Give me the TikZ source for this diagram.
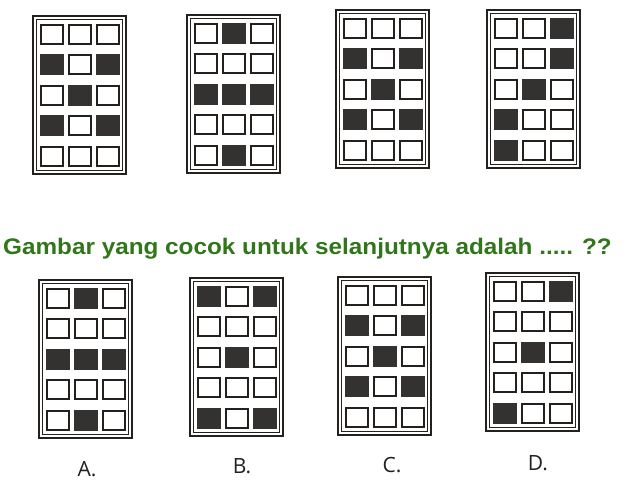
\documentclass[tikz,border=0pt]{standalone}
\usepackage{fontspec}
\setmainfont{Liberation Sans}
\newfontfamily\labfont{Open Sans}
\definecolor{ink}{RGB}{35,32,30}
\definecolor{fillc}{RGB}{52,50,48}
\definecolor{txtgreen}{RGB}{50,118,28}
\tikzset{
  frameo/.style={draw=ink,line width=2.2pt},
  framei/.style={draw=ink,line width=1.2pt},
  emptycell/.style={draw=ink,line width=2pt,fill=white},
  fullcell/.style={draw=fillc,line width=2pt,fill=fillc},
  optlabel/.style={font=\labfont\fontsize{21}{24}\selectfont,anchor=base,inner sep=0pt,text=ink}
}
\newcommand\gridpanel[3]{%
  \begin{scope}[shift={(#1,#2)}]
    \draw[frameo] (1.1,1.1) rectangle (93.9,158.9);
    \draw[framei] (4.4,4.4) rectangle (90.6,155.6);
    \foreach \r in {0,...,4}{\foreach \c in {0,...,2}{
      \draw[emptycell] ({8.5+28*\c},{9.5+30.5*\r}) rectangle ++(22,19);}}
    \foreach \r/\c in {#3}{
      \draw[fullcell] ({8.5+28*\c},{9.5+30.5*\r}) rectangle ++(22,19);}
  \end{scope}}
\begin{document}
\begin{tikzpicture}[x=1pt,y=-1pt]
\useasboundingbox (0,0) rectangle (636,488);
\fill[white] (0,0) rectangle (636,488);
% sequence
\gridpanel{32}{15}{1/0,1/2,2/1,3/0,3/2}
\gridpanel{186}{14}{0/1,2/0,2/1,2/2,4/1}
\gridpanel{335}{9}{1/0,1/2,2/1,3/0,3/2}
\gridpanel{486}{9}{0/2,1/2,2/1,3/0,4/0}
% question
\node[anchor=base west,inner sep=0pt,text=txtgreen,font=\bfseries\fontsize{22.5}{27}\selectfont] (q) at (3,254.7) {\scalebox{1.08}[1]{Gambar yang cocok untuk selanjutnya adalah ..... ??}};
% options
\gridpanel{38}{279}{0/1,2/0,2/1,2/2,4/1}
\gridpanel{189}{277}{0/0,0/2,2/1,4/0,4/2}
\gridpanel{337}{276}{1/0,1/2,2/1,3/0,3/2}
\gridpanel{485}{272}{0/2,2/1,4/0}
\node[optlabel] (la) at (87,476) {A.};
\node[optlabel] (lb) at (242,473) {B.};
\node[optlabel] (lc) at (392,472) {C.};
\node[optlabel] (ld) at (538,470) {D.};
\end{tikzpicture}
\end{document}
